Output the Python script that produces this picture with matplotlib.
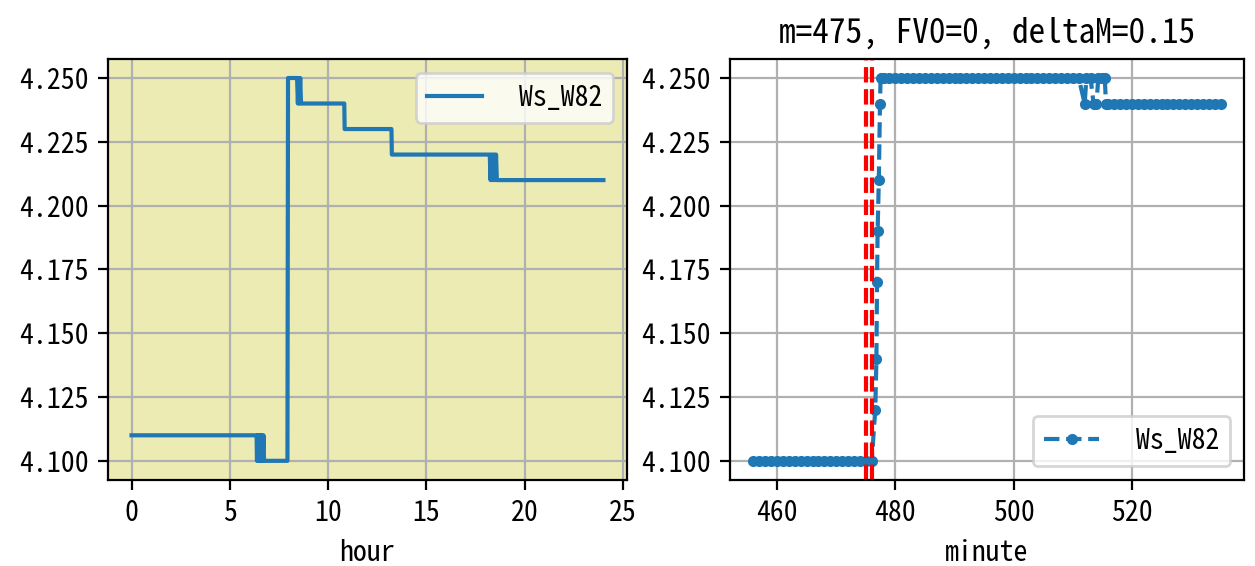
import matplotlib
matplotlib.use('Agg')
import matplotlib.pyplot as plt

plt.rcParams['font.family'] = ['Noto Sans Mono CJK SC', 'DejaVu Sans Mono', 'DejaVu Sans']
plt.rcParams['font.size'] = 10

# 左图: 24小时 (hour)
hour = [0, 6.36, 6.38, 6.42, 6.45, 6.49, 6.52, 6.56, 6.60, 6.63, 6.67, 6.71, 6.74, 6.78,
        7.93, 7.96, 8.42, 8.46, 8.50, 8.54, 8.58, 8.62, 8.64,
        10.82, 10.84, 13.22, 13.24,
        18.22, 18.26, 18.30, 18.34, 18.38, 18.42, 18.46, 18.50, 18.54, 18.58, 18.61, 24.0]
ws_hour = [4.11, 4.11, 4.10, 4.11, 4.10, 4.11, 4.10, 4.11, 4.10, 4.11, 4.10, 4.11, 4.10, 4.10,
           4.10, 4.25, 4.25, 4.24, 4.25, 4.24, 4.25, 4.24, 4.24,
           4.24, 4.23, 4.23, 4.22,
           4.22, 4.21, 4.22, 4.21, 4.22, 4.21, 4.22, 4.21, 4.22, 4.21, 4.21, 4.21]

# 右图: 分钟 (minute)
minute = list(range(456, 477)) + [476.6, 476.8, 476.9, 477.0, 477.2, 477.4, 477.5] \
    + list(range(478, 512)) + [512, 512.3, 513, 513.5, 514, 514.3, 515, 515.4, 515.6] \
    + list(range(516, 536))
ws_minute = [4.10] * 21 + [4.12, 4.14, 4.17, 4.19, 4.21, 4.24, 4.25] \
    + [4.25] * 34 + [4.24, 4.25, 4.25, 4.24, 4.24, 4.25, 4.25, 4.25, 4.24] \
    + [4.24] * 20

m = 475
FV0 = 0
deltaM = 0.15

fig = plt.figure(figsize=(6.275, 2.83), dpi=200)
ax1 = fig.add_axes([0.086, 0.152, 0.4136, 0.744])
ax2 = fig.add_axes([0.5817, 0.152, 0.4096, 0.744])

ax1.plot(hour, ws_hour, label=' Ws_W82')
ax1.set_facecolor('#ecebb4')
ax1.grid(True)
ax1.set_xlabel('hour')
ax1.legend(loc='upper right')

ax2.plot(minute, ws_minute, '.--', label=' Ws_W82')
ax2.axvline(m, color='r', linestyle='--')
ax2.axvline(m + 1, color='r', linestyle='--')
ax2.grid(True)
ax2.set_xlabel('minute')
ax2.set_title(f'm={m}, FV0={FV0}, deltaM={deltaM}')
ax2.legend(loc='lower right')

for ax in (ax1, ax2):
    ax.set_yticks([4.100, 4.125, 4.150, 4.175, 4.200, 4.225, 4.250])
    ax.set_yticklabels(['4.100', '4.125', '4.150', '4.175', '4.200', '4.225', '4.250'])

fig.savefig('out.png', dpi=200)
